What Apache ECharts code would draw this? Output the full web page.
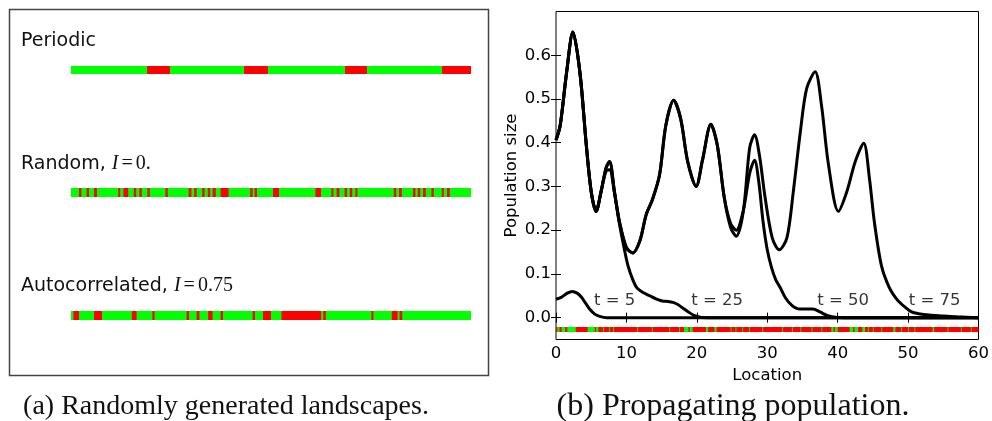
<!DOCTYPE html>
<html>
<head>
<meta charset="utf-8">
<title>Landscapes and propagating population</title>
<script src="https://cdn.jsdelivr.net/npm/echarts@6/dist/echarts.min.js"></script>
<style>
    html, body { margin: 0; padding: 0; background: #fff; }
    #main { width: 992px; height: 421px; }
</style>
</head>
<body>
<div id="main"></div>
<script type="text/javascript">
    // (a) landscapes: red cells on a green strip, position in % of the strip
    var periodicRed = [[19, 24.75], [43.25, 49.25], [68.5, 74], [92.75, 100]];
    var randomRed = [[2.0, 2.6], [3.9, 4.5], [5.75, 6.5], [11.8, 12.3], [13.1, 14.3], [15.7, 16.3], [17.1, 17.7],
        [19.1, 19.7], [23.6, 24.2], [29.4, 30.1], [30.8, 31.4], [32.8, 33.4], [34.2, 34.8], [35.4, 36.2],
        [37.4, 39.4], [44.8, 45.4], [45.9, 46.5], [50.5, 52.0], [61.1, 62.5], [65.1, 65.6], [66.4, 67.1],
        [68.4, 69.0], [69.7, 70.3], [71.1, 71.6], [80.7, 81.3], [82.0, 82.7], [85.5, 86.1], [86.7, 87.3],
        [88.0, 88.7], [90.1, 90.7], [92.7, 93.2], [94.0, 94.7]];
    var autoRed = [[0.6, 2.0], [5.75, 7.75], [15.2, 16.4], [20.35, 20.9], [28.9, 29.5], [31.4, 32.1], [34.3, 35.4],
        [37.4, 38.0], [45.4, 46.0], [48.0, 50.0], [52.6, 62.55], [63.05, 63.7], [75.1, 75.6], [80.2, 81.65],
        [82.15, 82.8]];

    // (b) population size along the landscape at four times
    var locT75 = [0, 0.6, 1.5, 2.4, 3.4, 4.3, 5.0, 5.7, 6.4, 7.1, 7.6, 8.3, 9.0, 10.0, 10.9, 11.9, 12.8, 13.7,
        14.7, 15.6, 16.7, 17.7, 18.7, 19.9, 20.8, 22.0, 22.9, 23.9, 24.8, 25.6, 26.6, 27.5, 28.2, 28.9, 29.7,
        30.7, 31.7, 32.8, 33.7, 34.7, 35.6, 36.8, 37.7, 38.7, 40.1, 41.3, 42.5, 43.7, 44.5, 45.2, 46.2, 47.3,
        48.5, 49.5, 50.5, 51.5, 53, 55, 57, 60];
    var popT75 = [0.406, 0.44, 0.56, 0.653, 0.56, 0.395, 0.288, 0.243, 0.288, 0.342, 0.357, 0.288, 0.22, 0.16,
        0.148, 0.175, 0.235, 0.27, 0.326, 0.44, 0.497, 0.455, 0.357, 0.30, 0.36, 0.442, 0.395, 0.274, 0.206,
        0.186, 0.243, 0.388, 0.418, 0.37, 0.274, 0.183, 0.155, 0.183, 0.288, 0.425, 0.524, 0.562, 0.486,
        0.349, 0.243, 0.288, 0.357, 0.399, 0.32, 0.22, 0.12, 0.07, 0.04, 0.025, 0.013, 0.009, 0.006, 0.004,
        0.002, 0];

    var locT50 = [0, 0.6, 1.5, 2.4, 3.4, 4.3, 5.0, 5.7, 6.4, 7.1, 7.6, 8.3, 9.0, 10.0, 10.9, 11.9, 12.8, 13.7,
        14.7, 15.6, 16.7, 17.7, 18.7, 19.9, 20.8, 22.0, 22.9, 23.9, 24.8, 25.6, 26.6, 27.5, 28.2, 28.8, 29.4,
        30.0, 30.6, 31.2, 31.8, 32.6, 33.5, 34.5, 35.6, 36.5, 37.5, 38.5, 39.6, 41, 60];
    var popT50 = [0.406, 0.44, 0.56, 0.653, 0.56, 0.395, 0.288, 0.243, 0.288, 0.342, 0.357, 0.288, 0.22, 0.16,
        0.148, 0.175, 0.235, 0.27, 0.326, 0.44, 0.497, 0.455, 0.357, 0.30, 0.36, 0.442, 0.395, 0.274, 0.215,
        0.20, 0.245, 0.33, 0.36, 0.31, 0.22, 0.155, 0.115, 0.087, 0.07, 0.045, 0.028, 0.02, 0.02, 0.02, 0.013,
        0.005, 0.001, 0, 0];

    var locT25 = [0, 0.6, 1.5, 2.4, 3.4, 4.3, 5.0, 5.7, 6.4, 7.1, 7.6, 8.3, 9.0, 9.6, 10.2, 10.9, 11.5, 12.3,
        13.3, 14.2, 15.1, 15.9, 16.6, 17.3, 18.0, 18.8, 19.5, 20.5, 22, 60];
    var popT25 = [0.406, 0.44, 0.56, 0.653, 0.56, 0.395, 0.288, 0.243, 0.288, 0.335, 0.338, 0.285, 0.215, 0.165,
        0.12, 0.087, 0.068, 0.058, 0.05, 0.043, 0.038, 0.037, 0.035, 0.03, 0.022, 0.013, 0.006, 0.001, 0, 0];

    var locT5 = [0, 0.8, 1.6, 2.3, 3.0, 3.6, 4.2, 4.8, 5.5, 6.2, 7.2, 60];
    var popT5 = [0.042, 0.047, 0.056, 0.06, 0.056, 0.047, 0.033, 0.019, 0.008, 0.003, 0, 0];

    var timeLabels = ['t = 5', 't = 25', 't = 50', 't = 75'];
    var labelLoc = [5.4, 19.2, 37.1, 50.1];
    var labelPop = [0.038, 0.038, 0.038, 0.038];

    // landscape drawn under the profiles: red with some green cells
    var stripLevel = -0.027;
    var stripGreen = [[0.2, 0.5], [0.8, 1.3], [1.6, 2.8], [4.5, 5.5], [5.7, 6.0], [18.2, 18.8], [19.0, 19.4],
        [21.3, 21.6], [22.5, 22.8], [39.1, 39.4], [39.7, 40.0], [41.7, 42.2], [42.4, 42.9], [43.5, 43.9],
        [47.9, 48.2], [53.5, 53.7]];
    var stripThin = [6.68, 7.53, 8.09, 11.53, 13.6, 16.1, 17.5, 24.8, 25.5, 26.45, 27.4, 29.3, 32.1, 33.5, 34.7,
        36.3, 37.7, 39.6, 44.3, 45.0, 46.2, 49.0, 50.0, 50.9, 55.6, 57.5, 58.9];

    var locationTicks = [0, 10, 20, 30, 40, 50, 60];
    var popTicks = [0, 0.1, 0.2, 0.3, 0.4, 0.5, 0.6];

    var SANS = 'DejaVu Sans';
    var myChart = echarts.init(document.getElementById('main'));

    function zip(xs, ys) {
        return xs.map(function (x, i) { return [x, ys[i]]; });
    }

    // rectangles filling the whole height of a small grid
    function bandSeries(idx, data, color) {
        return {
            type: 'custom', xAxisIndex: idx, yAxisIndex: idx, silent: true,
            encode: { x: [0, 1] },
            data: data,
            renderItem: function (params, api) {
                var a = api.coord([api.value(0), 1]);
                var b = api.coord([api.value(1), 0]);
                return { type: 'rect', shape: { x: a[0], y: a[1], width: b[0] - a[0], height: b[1] - a[1] },
                    style: { fill: color } };
            }
        };
    }

    // landscape under the profiles (5px high band around stripLevel)
    function stripSeries(data, color) {
        return {
            type: 'custom', xAxisIndex: 3, yAxisIndex: 3, silent: true, z: 3,
            encode: { x: [0, 1] },
            data: data,
            renderItem: function (params, api) {
                var a = api.coord([api.value(0), stripLevel]);
                var b = api.coord([api.value(1), stripLevel]);
                return { type: 'rect', shape: { x: a[0], y: a[1] - 2.5, width: b[0] - a[0], height: 5 },
                    style: { fill: color } };
            }
        };
    }

    function profile(xs, ys) {
        return {
            type: 'line', xAxisIndex: 3, yAxisIndex: 3, data: zip(xs, ys),
            symbol: 'none', smooth: 0.3, z: 5,
            lineStyle: { color: '#000', width: 3 }
        };
    }

    var grids = [
        { left: 71, top: 66, width: 400, height: 8 },
        { left: 71, top: 188, width: 400, height: 9 },
        { left: 71, top: 311, width: 400, height: 9 },
        { left: 556, top: 11.5, width: 425, height: 328, show: true, borderColor: '#000', borderWidth: 1 }
    ];
    var xAxes = [], yAxes = [];
    for (var i = 0; i < 3; i++) {
        xAxes.push({ type: 'value', gridIndex: i, min: 0, max: 100, show: false });
        yAxes.push({ type: 'value', gridIndex: i, min: 0, max: 1, show: false });
    }
    var tick = { inside: true, length: 5, lineStyle: { color: '#000', width: 1 } };
    xAxes.push({
        type: 'value', gridIndex: 3, min: 0, max: 60, interval: 10,
        axisLine: { show: false }, splitLine: { show: false },
        axisTick: tick,
        axisLabel: { color: '#000', fontFamily: SANS, fontSize: 16.5, margin: 6 },
        name: 'Location', nameLocation: 'middle', nameGap: 19,
        nameTextStyle: { color: '#000', fontFamily: SANS, fontSize: 16.5 }
    });
    xAxes.push({
        type: 'value', gridIndex: 3, position: 'top', min: 0, max: 60, interval: 10,
        axisLine: { show: false }, splitLine: { show: false }, axisTick: tick, axisLabel: { show: false }
    });
    yAxes.push({
        type: 'value', gridIndex: 3, min: -0.05, max: 0.7,
        axisLine: { show: false }, splitLine: { show: false },
        axisTick: Object.assign({ customValues: popTicks }, tick),
        axisLabel: { customValues: popTicks, color: '#000', fontFamily: SANS, fontSize: 16.5, margin: 5,
            formatter: function (v) { return v.toFixed(1); } },
        name: 'Population size', nameLocation: 'middle', nameGap: 36,
        nameTextStyle: { color: '#000', fontFamily: SANS, fontSize: 16.5 }
    });
    yAxes.push({
        type: 'value', gridIndex: 3, position: 'right', min: -0.05, max: 0.7,
        axisLine: { show: false }, splitLine: { show: false },
        axisTick: Object.assign({ customValues: popTicks }, tick), axisLabel: { show: false }
    });

    var series = [
        bandSeries(0, [[0, 100]], '#00ff00'), bandSeries(0, periodicRed, '#ff0000'),
        bandSeries(1, [[0, 100]], '#00ff00'), bandSeries(1, randomRed, '#ff0000'),
        bandSeries(2, [[0, 100]], '#00ff00'), bandSeries(2, autoRed, '#ff0000'),
        stripSeries([[0, 60]], '#ff0000'),
        stripSeries(stripGreen, '#00ff00'),
        stripSeries(stripThin.map(function (x) { return [x, x + 0.12]; }), '#00ff00'),
        profile(locT5, popT5), profile(locT25, popT25), profile(locT50, popT50), profile(locT75, popT75),
        {
            type: 'scatter', xAxisIndex: 3, yAxisIndex: 3, symbolSize: 0, silent: true, z: 6,
            data: labelLoc.map(function (x, i) { return { value: [x, labelPop[i]], name: timeLabels[i] }; }),
            label: { show: true, position: 'right', distance: 0, formatter: '{b}', color: '#000',
                fontFamily: SANS, fontSize: 16.5 }
        }
    ];

    var mathRich = {
        a: { fontFamily: SANS, fontSize: 19, fill: '#111' },
        m: { fontFamily: 'Liberation Serif', fontStyle: 'italic', fontSize: 20, fill: '#111' },
        e: { fontFamily: 'Liberation Serif', fontSize: 20, fill: '#111', padding: [0, 3, 0, 3] },
        n: { fontFamily: 'Liberation Serif', fontSize: 20, fill: '#111' }
    };

    var option = {
        animation: false,
        backgroundColor: '#fff',
        grid: grids,
        xAxis: xAxes,
        yAxis: yAxes,
        series: series,
        graphic: [
            { type: 'rect', shape: { x: 9.5, y: 9.5, width: 479, height: 366 },
                style: { fill: 'none', stroke: '#444', lineWidth: 1.5 } },
            { type: 'text', x: 21, y: 41, style: { text: 'Periodic', font: '19px "DejaVu Sans"', fill: '#111',
                verticalAlign: 'middle' } },
            { type: 'text', x: 21, y: 164, style: { text: '{a|Random, }{m|I}{e|=}{n|0.}', rich: mathRich,
                verticalAlign: 'middle' } },
            { type: 'text', x: 21, y: 286, style: { text: '{a|Autocorrelated, }{m|I}{e|=}{n|0.75}', rich: mathRich,
                verticalAlign: 'middle' } },
            { type: 'text', x: 226, y: 407, style: { text: '(a) Randomly generated landscapes.',
                font: '28px "Liberation Serif"', fill: '#111', align: 'center', verticalAlign: 'middle' } },
            { type: 'text', x: 733, y: 407, style: { text: '(b) Propagating population.',
                font: '32px "Liberation Serif"', fill: '#111', align: 'center', verticalAlign: 'middle' } }
        ]
    };

    myChart.setOption(option);
</script>
</body>
</html>
